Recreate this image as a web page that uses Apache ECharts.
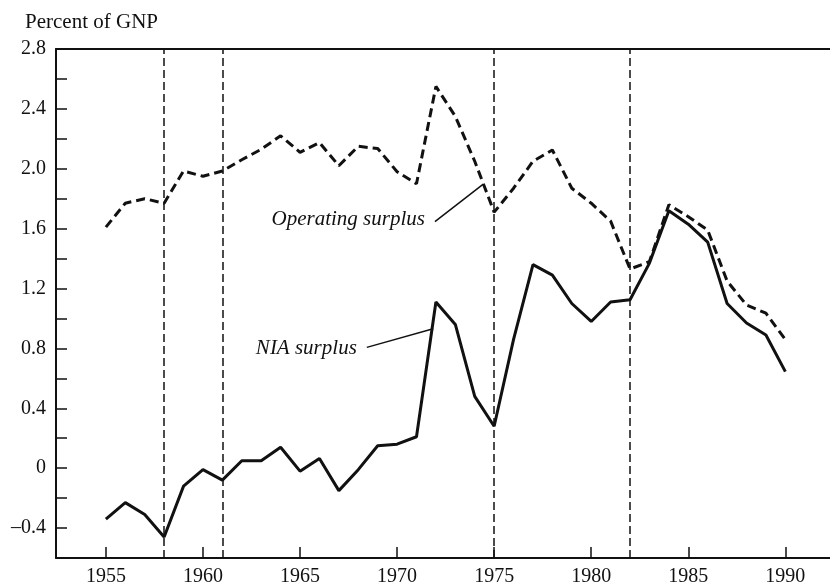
<!DOCTYPE html>
<html>
<head>
<meta charset="utf-8">
<script src="https://cdn.jsdelivr.net/npm/echarts@6/dist/echarts.min.js"></script>
<style>html,body{margin:0;padding:0;background:#fff}#c{width:830px;height:587px}</style>
</head>
<body>
<div id="c"></div>
<script>
const years = [1955,1956,1957,1958,1959,1960,1961,1962,1963,1964,1965,1966,1967,1968,1969,1970,1971,1972,1973,1974,1975,1976,1977,1978,1979,1980,1981,1982,1983,1984,1985,1986,1987,1988,1989,1990];
const niaSurplus = [-0.34,-0.23,-0.31,-0.46,-0.12,-0.01,-0.08,0.05,0.05,0.14,-0.02,0.065,-0.15,-0.01,0.15,0.16,0.21,1.11,0.96,0.48,0.28,0.86,1.36,1.29,1.10,0.98,1.11,1.125,1.37,1.72,1.63,1.51,1.10,0.97,0.89,0.645];
const operatingSurplus = [1.61,1.77,1.80,1.77,1.985,1.95,1.985,2.06,2.13,2.22,2.11,2.175,2.02,2.15,2.135,1.98,1.90,2.55,2.35,2.05,1.71,1.87,2.05,2.125,1.87,1.77,1.65,1.33,1.38,1.76,1.68,1.59,1.25,1.09,1.035,0.86];
const xTickLabels = [1955,1960,1965,1970,1975,1980,1985,1990];
const yTickValues = [-0.4,0,0.4,0.8,1.2,1.6,2.0,2.4,2.8];
const yTickLabels = ['\u20130.4','0','0.4','0.8','1.2','1.6','2.0','2.4','2.8'];
const recessionLines = [1958,1961,1975,1982];
const seriesNames = ['NIA surplus','Operating surplus'];
const yTitle = 'Percent of GNP';

const FONT = '"Liberation Serif","Times New Roman",serif';
const chart = echarts.init(document.getElementById('c'), null, {renderer:'canvas'});
const pair = (xs, ys) => xs.map((x,i)=>[x, ys[i]]);

chart.setOption({
  animation:false,
  backgroundColor:'#fff',
  title:{text:yTitle,left:20,top:7,textStyle:{fontFamily:FONT,fontSize:21,fontWeight:'normal',color:'#111'}},
  grid:{left:56,right:0,top:49,bottom:28,containLabel:false},
  xAxis:[{
    type:'value',min:1952.43,max:1992.3,
    axisLine:{show:true,onZero:false,lineStyle:{color:'#111',width:2}},
    axisTick:{show:true,inside:true,length:11,lineStyle:{color:'#111',width:1.5},customValues:xTickLabels},
    axisLabel:{show:true,customValues:xTickLabels,margin:9,fontFamily:FONT,fontSize:20,color:'#111',formatter:v=>String(Math.round(v))},
    splitLine:{show:false}
  },{
    type:'value',position:'top',min:1952.43,max:1992.3,
    axisLine:{show:true,onZero:false,lineStyle:{color:'#111',width:2}},
    axisTick:{show:false},axisLabel:{show:false},splitLine:{show:false}
  }],
  yAxis:{
    type:'value',min:-0.6,max:2.8,interval:0.2,
    axisLine:{show:true,onZero:false,lineStyle:{color:'#111',width:2}},
    axisTick:{show:true,inside:true,length:11,lineStyle:{color:'#111',width:1.5}},
    axisLabel:{show:true,customValues:yTickValues,margin:10,fontFamily:FONT,fontSize:20,color:'#111',
      formatter:v=>{const i=yTickValues.findIndex(t=>Math.abs(t-v)<1e-6);return i>=0?yTickLabels[i]:'';}},
    splitLine:{show:false}
  },
  series:[{
    name:seriesNames[1],type:'line',data:pair(years,operatingSurplus),
    symbol:'none',lineStyle:{color:'#111',width:3,type:[9,5]},
    markLine:{silent:true,symbol:'none',label:{show:false},
      lineStyle:{color:'#111',width:1.5,type:[8,4]},
      data:recessionLines.map(y=>({xAxis:y}))},
    z:2
  },{
    name:seriesNames[0],type:'line',data:pair(years,niaSurplus),
    symbol:'none',lineStyle:{color:'#111',width:3},z:3,
    markLine:{silent:true,symbol:'none',label:{show:false},lineStyle:{color:'#111',width:1.5,type:'solid'},
      data:[
        [{coord:[1971.95,1.647]},{coord:[1974.44,1.898]}],
        [{coord:[1968.44,0.807]},{coord:[1971.86,0.931]}]
      ]},
    markPoint:{silent:true,symbol:'circle',symbolSize:0,
      label:{show:true,position:'left',distance:10,fontFamily:FONT,fontSize:21,fontStyle:'italic',color:'#111'},
      data:[
        {coord:[1971.95,1.66],label:{formatter:seriesNames[1]}},
        {coord:[1968.44,0.80],label:{formatter:seriesNames[0]}}
      ]}
  }]
});
</script>
</body>
</html>
